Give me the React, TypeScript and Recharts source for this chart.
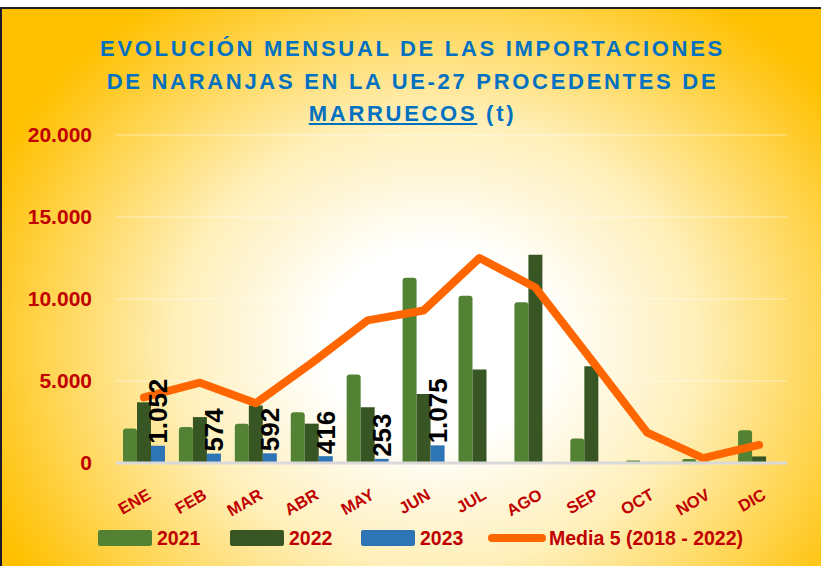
import React from "react";
import {
  ComposedChart,
  Bar,
  Line,
  XAxis,
  YAxis,
  CartesianGrid,
  LabelList,
} from "recharts";

const months = ["ENE", "FEB", "MAR", "ABR", "MAY", "JUN", "JUL", "AGO", "SEP", "OCT", "NOV", "DIC"];
const imports2021 = [2100, 2200, 2400, 3100, 5400, 11300, 10200, 9800, 1500, 150, 250, 2000];
const imports2022 = [3700, 2800, 3500, 2400, 3400, 4200, 5700, 12700, 5900, 50, 80, 400];
const imports2023 = [1052, 574, 592, 416, 253, 1075, null, null, null, null, null, null];
const media5 = [4000, 4900, 3650, 6100, 8700, 9300, 12500, 10700, 6300, 1850, 300, 1100];
const yTicks = [0, 5000, 10000, 15000, 20000];

const data = months.map((m, i) => ({
  month: m,
  y2021: imports2021[i],
  y2022: imports2022[i],
  y2023: imports2023[i],
  media: media5[i],
}));

const RED = "#C00000";
const FONT = "'Liberation Sans', Arial, sans-serif";

const fmt = (v: number) => String(Math.round(v)).replace(/\B(?=(\d{3})+(?!\d))/g, ".");

const MonthTick = ({ x, y, payload }: any) => (
  <g transform={`translate(${x + 8}, ${y + 27}) rotate(-30)`}>
    <text textAnchor="end" fill={RED} fontSize={16.5} fontWeight="bold" fontFamily={FONT}>
      {payload.value}
    </text>
  </g>
);

// label sits over the 2023 bar (bar offset +14 from category center)
const Label2023 = ({ x, y, value }: any) => {
  if (value == null) return null;
  return (
    <text
      transform={`translate(${x + 23}, ${y - 2}) rotate(-90)`}
      textAnchor="start"
      fill="#000"
      fontSize={26}
      fontWeight="bold"
      fontFamily={FONT}
    >
      {fmt(value)}
    </text>
  );
};

const legendItems = [
  { label: "2021", color: "#548235", kind: "box", x: 96 },
  { label: "2022", color: "#375623", kind: "box", x: 228 },
  { label: "2023", color: "#2E75B6", kind: "box", x: 359 },
  { label: "Media 5 (2018 - 2022)", color: "#FF6600", kind: "line", x: 486 },
];

export default function App() {
  return (
    <div
      style={{
        position: "absolute",
        left: 0,
        top: 7,
        width: 821,
        height: 559,
        boxSizing: "border-box",
        borderTop: "2px solid #222",
        borderLeft: "2px solid #1a1a2a",
        background:
          "radial-gradient(ellipse 62% 78% at 53% 60%, #ffffff 0%, #ffffff 22%, #ffefb8 52%, #ffc000 96%)",
        overflow: "hidden",
        fontFamily: FONT,
      }}
    >
      <div
        style={{
          position: "absolute",
          top: 24,
          left: 0,
          width: 821,
          textAlign: "center",
          color: "#0070C0",
          fontWeight: "bold",
          fontSize: 22,
          letterSpacing: 2.7,
          lineHeight: "32.5px",
        }}
      >
        <div>EVOLUCIÓN MENSUAL DE LAS IMPORTACIONES</div>
        <div>DE NARANJAS EN LA UE-27 PROCEDENTES DE</div>
        <div>
          <span style={{ textDecoration: "underline" }}>MARRUECOS</span> (t)
        </div>
      </div>

      <div style={{ position: "absolute", left: -2, top: -2 }}>
        <ComposedChart
          width={821}
          height={559}
          data={data}
          margin={{ top: 128, right: 34, left: 0, bottom: 0 }}
          barGap={0}
          barSize={14}
        >
          <CartesianGrid vertical={false} stroke="#ffffff" strokeOpacity={0.5} />
          <XAxis
            dataKey="month"
            height={103}
            tick={<MonthTick />}
            tickLine={false}
            axisLine={{ stroke: "#d9d9d9", strokeWidth: 3 }}
            interval={0}
          />
          <YAxis
            width={116}
            domain={[0, 20000]}
            ticks={yTicks}
            tickFormatter={fmt}
            tickLine={false}
            axisLine={false}
            tickSize={0}
            tickMargin={24}
            tick={{ fill: RED, fontSize: 21, fontWeight: "bold", fontFamily: FONT }}
          />
          <Bar dataKey="y2021" fill="#548235" radius={[3, 3, 0, 0]} isAnimationActive={false} />
          <Bar dataKey="y2022" fill="#375623" isAnimationActive={false} />
          <Bar dataKey="y2023" fill="#2E75B6" isAnimationActive={false} />
          <Line
            dataKey="media"
            type="linear"
            stroke="#FF6600"
            strokeWidth={8}
            strokeLinejoin="round"
            strokeLinecap="round"
            dot={false}
            activeDot={false}
            isAnimationActive={false}
          />
          <Line
            dataKey="y2023"
            stroke="none"
            dot={false}
            activeDot={false}
            legendType="none"
            isAnimationActive={false}
          >
            <LabelList dataKey="y2023" content={<Label2023 />} />
          </Line>
        </ComposedChart>
      </div>

      {legendItems.map((it) => (
        <div
          key={it.label}
          style={{
            position: "absolute",
            left: it.x,
            top: 519,
            display: "flex",
            alignItems: "center",
            height: 20,
          }}
        >
          {it.kind === "box" ? (
            <div style={{ width: 54, height: 16, background: it.color, borderRadius: 2, marginRight: 5 }} />
          ) : (
            <div style={{ width: 58, height: 8, background: it.color, borderRadius: 4, marginRight: 3 }} />
          )}
          <span style={{ color: RED, fontWeight: "bold", fontSize: 19.5 }}>{it.label}</span>
        </div>
      ))}
    </div>
  );
}
